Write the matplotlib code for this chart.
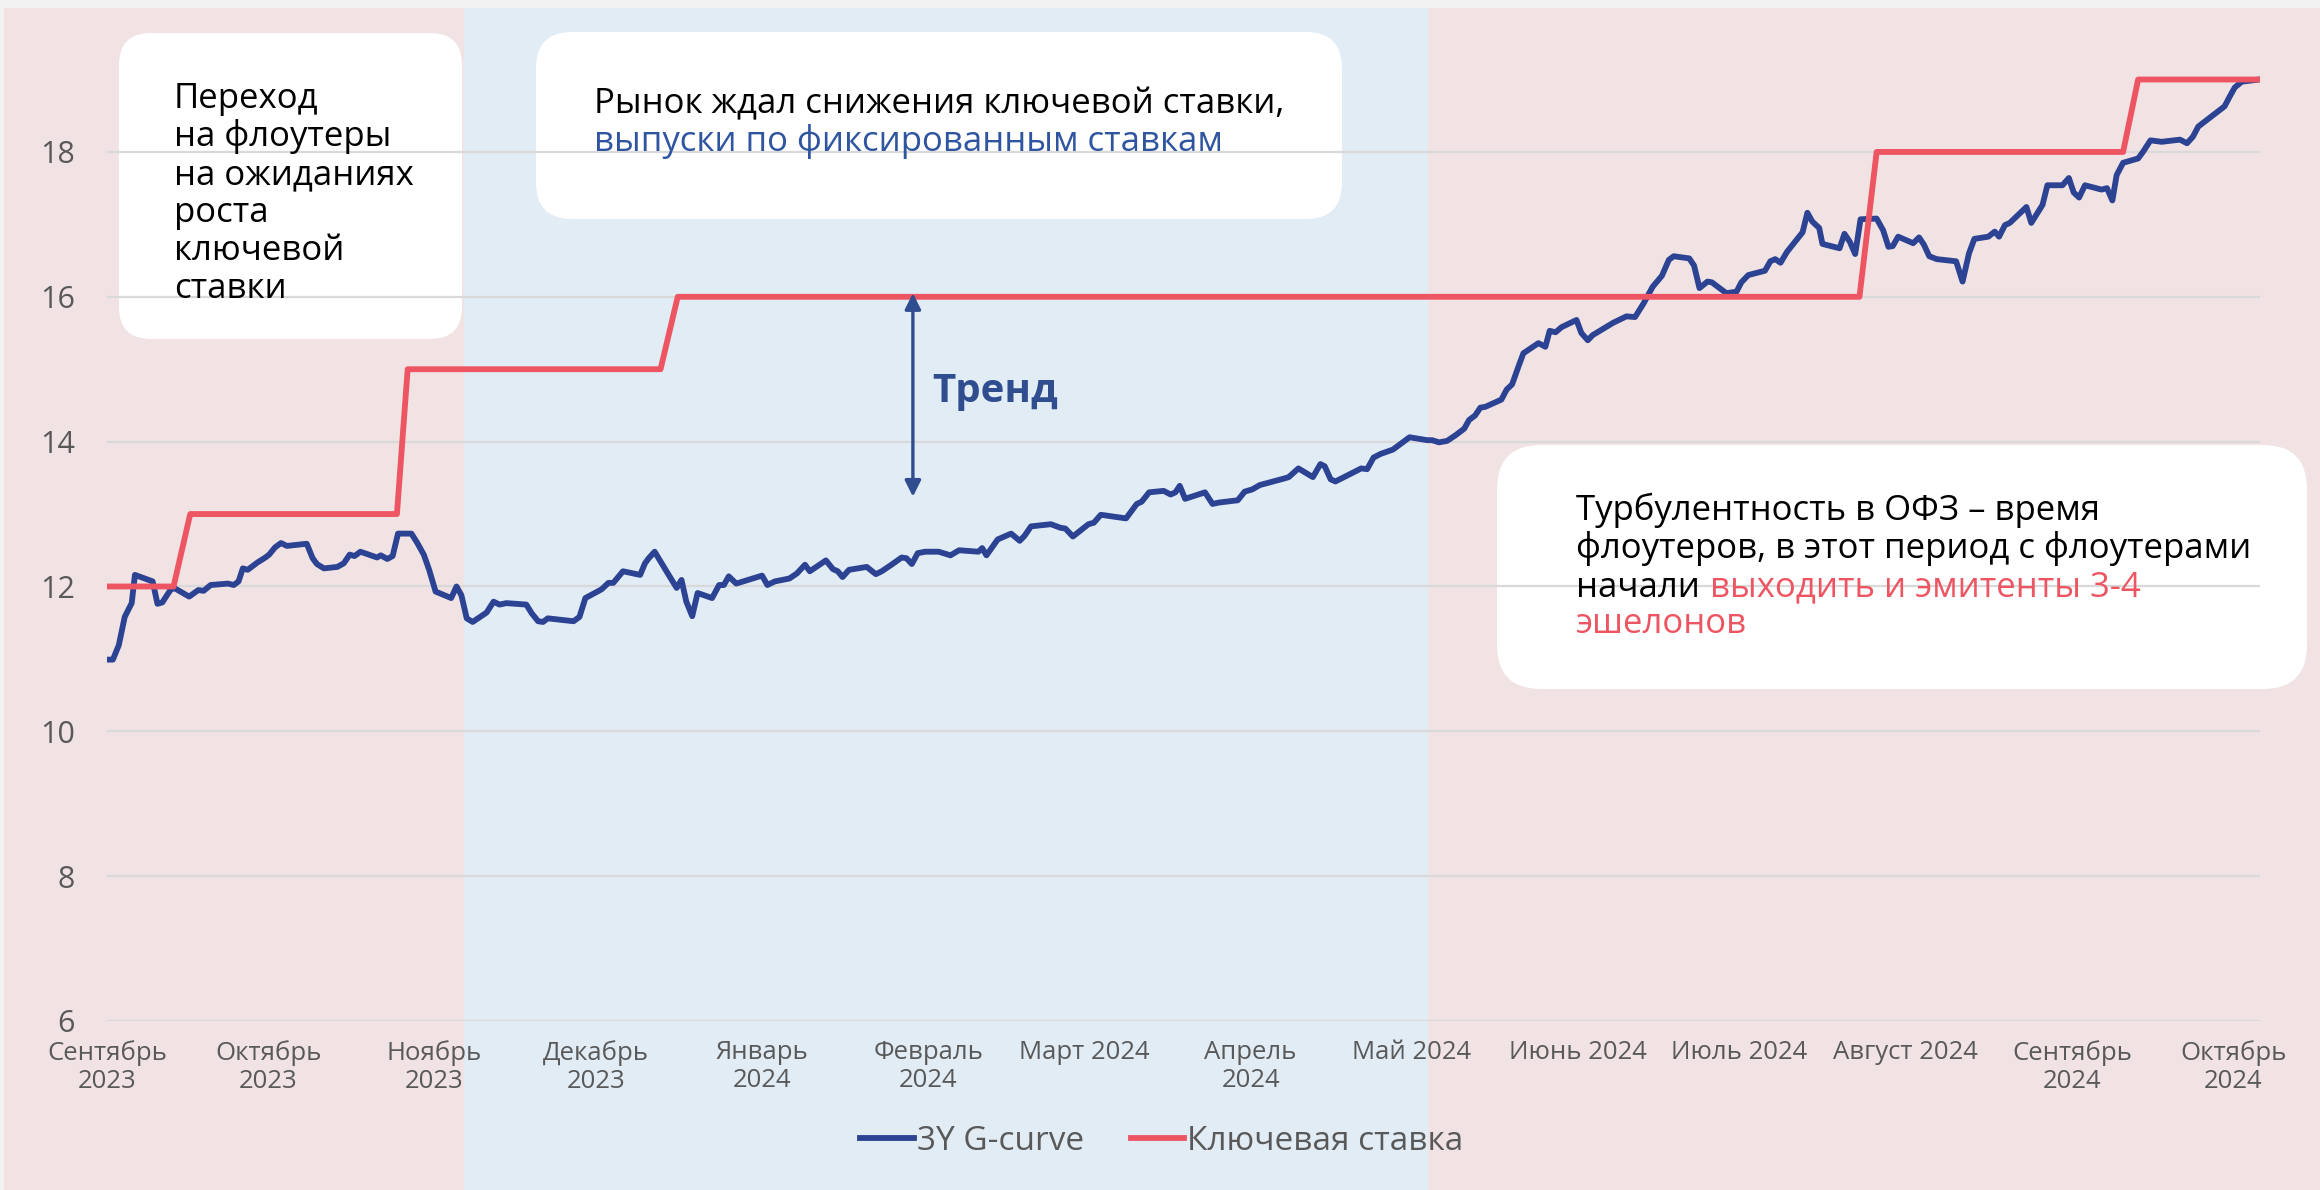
import numpy as np
import matplotlib.pyplot as plt
import matplotlib.dates as mdates
from matplotlib.patches import FancyBboxPatch, Rectangle
from matplotlib.transforms import Affine2D, blended_transform_factory

plt.rcParams['font.family'] = ['Open Sans', 'DejaVu Sans']

# --- data (days counted from START, values in %) ---
START = np.datetime64('2023-09-01')

g_days = [0, 1.1, 2.2, 3.3, 4.6, 5.2, 8.5, 9.4, 10.3, 11.8, 12.5, 15.3, 17.0, 18.0, 19.3,
          22.5, 23.6, 24.5, 25.3, 26.2, 28.0, 29.5, 30.2, 31.3, 32.4, 33.5, 37.2, 38.3,
          39.1, 40.4, 42.9, 44.1, 45.2, 46.1, 47.2, 50.3, 51.0, 52.2, 53.2, 54.2, 56.7,
          57.8, 59.0, 60.0, 61.2, 64.1, 65.1, 66.0, 67.0, 68.1, 70.7, 72.0, 73.1, 74.4,
          78.1, 79.1, 80.3, 81.2, 82.1, 86.9, 88.0, 89.1, 92.1, 93.4, 94.3, 96.1, 99.3,
          100.2, 100.9, 102.0, 104.2, 106.1, 107.0, 107.9, 109.0,
          110.0, 112.7, 114.0, 114.9, 115.8, 117.2, 122.0, 123.0, 124.4, 127.1, 128.5,
          130.0, 130.9, 133.9, 135.2, 136.1, 137.0, 138.2, 141.5, 143.2, 144.3, 146.1,
          148.0, 148.9, 149.9, 151.0, 152.4, 154.9, 157.1, 158.7, 162.3, 163.0, 163.8,
          165.9, 168.4, 170.0, 170.9, 172.1, 175.8, 177.6, 178.5, 179.9, 182.8, 183.8,
          185.1, 189.8, 191.8, 192.7, 194.1, 196.8, 198.1, 199.0, 199.8, 200.8, 204.5,
          205.9, 207.2, 210.6, 211.9, 213.3, 214.7, 219.2, 220.1, 221.9, 224.6, 226.0,
          226.8, 227.9, 228.8, 233.6, 234.7, 235.9, 237.2, 239.5, 242.6,
          245.9, 246.8, 248.1, 249.6, 251.2, 252.8, 253.7, 254.8, 255.8, 256.7, 259.7,
          260.7, 261.7, 262.9, 263.8, 266.6, 267.9, 268.7, 269.8, 270.9, 273.7, 274.6,
          275.8, 276.7, 280.5, 283.0, 284.6, 286.2, 287.9, 289.6, 290.9, 291.8, 294.7,
          295.6, 296.6, 298.1, 298.9, 301.6, 303.5, 304.4, 305.7, 308.8, 309.8, 310.7,
          311.7, 312.9, 315.8, 316.7, 317.6, 318.9, 319.5, 322.7, 323.6, 324.6, 325.6,
          326.6, 329.6,
          330.8, 331.8, 332.6, 333.6, 336.4, 337.5, 338.4, 339.4, 340.8, 344.4, 345.6,
          346.8, 347.8, 350.4, 351.6, 352.4, 353.5, 354.4, 357.5, 358.4, 360.5, 361.4,
          364.2, 365.4, 366.3, 367.3, 368.4, 371.5, 372.5, 373.5, 374.3, 375.5, 378.3,
          379.2, 380.6, 382.7, 386.1, 387.4, 388.5, 389.5, 394.4, 395.4, 396.3, 397.6,
          400.8]
g_values = [10.99, 10.99, 11.19, 11.58, 11.77, 12.16, 12.07, 11.76, 11.78, 11.95, 11.98,
            11.86, 11.95, 11.94, 12.02, 12.04, 12.02, 12.07, 12.25, 12.23, 12.33, 12.40,
            12.44, 12.54, 12.60, 12.56, 12.59, 12.39, 12.31, 12.25, 12.27, 12.32, 12.44,
            12.42, 12.48, 12.40, 12.43, 12.38, 12.42, 12.73, 12.73, 12.60, 12.44, 12.23,
            11.93, 11.84, 12.00, 11.88, 11.56, 11.51, 11.64, 11.79, 11.75, 11.77, 11.75,
            11.63, 11.52, 11.51, 11.56, 11.52, 11.58, 11.84, 11.96, 12.05, 12.05, 12.21,
            12.16, 12.32, 12.39, 12.48, 12.21, 11.98, 12.09, 11.79, 11.59,
            11.91, 11.84, 12.02, 12.02, 12.14, 12.04, 12.15, 12.02, 12.07, 12.11, 12.18,
            12.30, 12.21, 12.36, 12.24, 12.21, 12.13, 12.23, 12.27, 12.17, 12.21, 12.30,
            12.40, 12.39, 12.31, 12.46, 12.48, 12.48, 12.43, 12.50, 12.48, 12.53, 12.43,
            12.65, 12.73, 12.63, 12.70, 12.83, 12.86, 12.81, 12.80, 12.69, 12.86, 12.88,
            12.99, 12.94, 13.14, 13.17, 13.30, 13.32, 13.27, 13.30, 13.39, 13.21, 13.30,
            13.14, 13.16, 13.19, 13.31, 13.34, 13.40, 13.49, 13.51, 13.63, 13.51, 13.69,
            13.66, 13.48, 13.45, 13.63, 13.62, 13.78, 13.83, 13.89, 14.06,
            14.02, 14.02, 13.99, 14.01, 14.09, 14.18, 14.30, 14.36, 14.47, 14.48, 14.58,
            14.72, 14.79, 15.04, 15.22, 15.36, 15.31, 15.53, 15.51, 15.58, 15.68, 15.50,
            15.40, 15.47, 15.64, 15.73, 15.72, 15.91, 16.14, 16.29, 16.51, 16.56, 16.53,
            16.43, 16.12, 16.21, 16.20, 16.05, 16.07, 16.20, 16.30, 16.36, 16.49, 16.52,
            16.47, 16.62, 16.89, 17.16, 17.04, 16.95, 16.73, 16.67, 16.87, 16.76, 16.59,
            17.07, 17.08,
            16.92, 16.69, 16.70, 16.83, 16.74, 16.82, 16.72, 16.56, 16.52, 16.49, 16.21,
            16.60, 16.80, 16.83, 16.90, 16.83, 16.99, 17.02, 17.24, 17.02, 17.27, 17.54,
            17.54, 17.64, 17.44, 17.37, 17.54, 17.48, 17.50, 17.33, 17.68, 17.85, 17.91,
            18.00, 18.16, 18.14, 18.17, 18.12, 18.21, 18.35, 18.63, 18.77, 18.89, 18.97,
            19.00]

key_days = [0, 12.4, 15.5, 54.0, 56.0, 103.1, 106.3, 326.4, 329.6, 375.5, 378.3, 400.8]
key_values = [12, 12, 13, 13, 15, 15, 16, 16, 18, 18, 19, 19]

month_ticks = ['2023-09-01', '2023-10-01', '2023-11-01', '2023-12-01', '2024-01-01',
               '2024-02-01', '2024-03-01', '2024-04-01', '2024-05-01', '2024-06-01',
               '2024-07-01', '2024-08-01', '2024-09-01', '2024-10-01']
month_labels = ['Сентябрь\n2023', 'Октябрь\n2023', 'Ноябрь\n2023', 'Декабрь\n2023',
                'Январь\n2024', 'Февраль\n2024', 'Март 2024', 'Апрель\n2024', 'Май 2024',
                'Июнь 2024', 'Июль 2024', 'Август 2024', 'Сентябрь\n2024', 'Октябрь\n2024']
y_ticks = [6, 8, 10, 12, 14, 16, 18]

fixed_period = (66.4, 246.0)   # blue-shaded period, days from START
trend_day, trend_top, trend_bottom = 150.1, 16.05, 13.24

# --- colours ---
NAVY = '#2C4292'
RED = '#EE5562'
PINK_BG = '#F1E3E4'
BLUE_BG = '#E1ECF5'
GREY = '#595959'
TEXT_BLUE = '#2F55A0'
NOTE_SIZE = 25

W, H = 2320, 1190
fig = plt.figure(figsize=(W / 100, H / 100), dpi=100, facecolor='#F2F2F2')
px = Affine2D().scale(1 / W, 1 / H) + fig.transFigure   # pixel coords, origin bottom-left

ax = fig.add_axes([107 / W, (H - 1021) / H, (2260 - 107) / W, (1021 - 57.8) / H])
ax.set_facecolor('none')

base = mdates.date2num(START)
x_g = base + np.array(g_days)
x_key = base + np.array(key_days)

# background panels
fig.add_artist(Rectangle((4, 0), W - 4, H - 8, transform=px, facecolor=PINK_BG,
                         edgecolor='none', zorder=-10))
band = blended_transform_factory(ax.transData, fig.transFigure)
fig.add_artist(Rectangle((base + fixed_period[0], 0), fixed_period[1] - fixed_period[0],
                         (H - 8) / H, transform=band, facecolor=BLUE_BG,
                         edgecolor='none', zorder=-9))

ax.plot(x_g, g_values, color=NAVY, lw=4.2, label='3Y G-curve', solid_joinstyle='round')
ax.plot(x_key, key_values, color=RED, lw=4.2, label='Ключевая ставка',
        solid_joinstyle='round')

ax.set_xlim(base, base + 401)
ax.set_ylim(6, 19.3)
ax.set_yticks(y_ticks)
ax.set_xticks(mdates.date2num(np.array(month_ticks, dtype='datetime64[D]')))
ax.set_xticklabels(month_labels, linespacing=1.12)
ax.tick_params(axis='x', length=0, pad=14, labelsize=18.5, labelcolor=GREY)
ax.tick_params(axis='y', length=0, pad=23, labelsize=22, labelcolor=GREY)
ax.yaxis.grid(True, color='#D9D9D9', lw=1.6)
ax.set_axisbelow(True)
for s in ax.spines.values():
    s.set_visible(False)

fig.legend(loc='center', bbox_to_anchor=(1162 / W, 49 / H), ncol=2, frameon=False,
           fontsize=24, handlelength=1.6, handletextpad=0.1, columnspacing=1.4,
           labelcolor=GREY)

# annotation boxes (pixel coordinates measured from the top of the image)
def box(x0, y0, x1, y1, r):
    fig.add_artist(FancyBboxPatch((x0, H - y1), x1 - x0, y1 - y0,
                                  boxstyle=f'round,pad=0,rounding_size={r}',
                                  transform=px, facecolor='white', edgecolor='none',
                                  zorder=-5))

def line(x, y, s, color='black', size=NOTE_SIZE):
    return fig.text(x, H - y, s, transform=px, color=color, fontsize=size, va='baseline')

box(119, 33, 462, 339, 32)
for i, s in enumerate(['Переход', 'на флоутеры', 'на ожиданиях', 'роста', 'ключевой',
                       'ставки']):
    line(174, 108.3 + 38 * i, s)

box(536, 32, 1342, 219, 36)
line(594, 113.3, 'Рынок ждал снижения ключевой ставки,')
line(594, 150.7, 'выпуски по фиксированным ставкам', color=TEXT_BLUE)

box(1497, 445, 2307, 689, 44)
line(1576, 520, 'Турбулентность в ОФЗ – время')
line(1576, 558.3, 'флоутеров, в этот период с флоутерами')
t = line(1576, 596.7, 'начали')
ax.annotate('выходить и эмитенты 3-4', xy=(1, 0), xycoords=t, xytext=(7, 0),
            textcoords='offset points', va='bottom', color=RED, fontsize=NOTE_SIZE,
            annotation_clip=False)
line(1576, 632.7, 'эшелонов', color=RED)

# trend arrow
ax.annotate('', xy=(base + trend_day, trend_top), xytext=(base + trend_day, trend_bottom),
            arrowprops=dict(arrowstyle='<|-|>', color='#2F4D8F', lw=2.4,
                            mutation_scale=24, shrinkA=0, shrinkB=0))
fig.text(932, H - 401.7, 'Тренд', transform=px, color='#2F4D8F', fontsize=29,
         fontweight='bold', va='baseline')

fig.savefig('out.png', dpi=100, facecolor=fig.get_facecolor())
